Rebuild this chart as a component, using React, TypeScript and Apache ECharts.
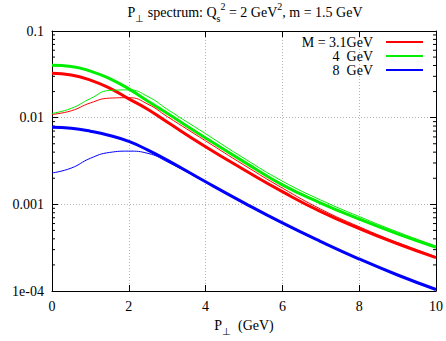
import React, { useEffect, useRef } from "react";
import * as echarts from "echarts";

const FONT = '"Liberation Serif", "Times New Roman", serif';

// P_perp values (GeV)
const pt = [0, 0.5, 1, 1.5, 2, 2.5, 3, 4, 5, 6, 7, 8, 9, 10];

// Thick curves
const redThick = [0.0325, 0.0311, 0.0271, 0.0219, 0.0165, 0.01245, 0.00891, 0.00462, 0.00251, 0.0014, 0.000822, 0.000525, 0.000351, 0.000243];
const greenThick = [0.0403, 0.039, 0.0345, 0.0282, 0.0215, 0.0155, 0.01122, 0.00582, 0.00309, 0.00168, 0.001035, 0.000676, 0.000457, 0.00032];
const blueThick = [0.00773, 0.00753, 0.00697, 0.00622, 0.00532, 0.00422, 0.00324, 0.00182, 0.00104, 0.00061, 0.000372, 0.000234, 0.000153, 0.000104];

// Thin curves
const redThin = [0.0109, 0.012, 0.0148, 0.0168, 0.017, 0.0143, 0.0103, 0.0054, 0.00284, 0.00154, 0.00088, 0.000551, 0.000362, 0.000248];
const greenThin = [0.0112, 0.0128, 0.0166, 0.0206, 0.0209, 0.0175, 0.0125, 0.00652, 0.0034, 0.00185, 0.00112, 0.000723, 0.00048, 0.00033];
const blueThin = [0.0023, 0.00262, 0.0034, 0.00397, 0.00411, 0.00387, 0.0031, 0.0018, 0.00103, 0.000605, 0.00037, 0.000233, 0.000152, 0.000104];

const legendNames = ["M = 3.1GeV", "4  GeV", "8  GeV"];
const colors = ["#ff0000", "#00ee00", "#0000ff"];

const yTickValues = [1e-4, 1e-3, 1e-2, 1e-1];
const yTickLabels = ["1e-04", "0.001", "0.01", "0.1"];
const minorMantissas = [2, 3, 4, 5, 6, 7, 8, 9];
const minorDecades = [1e-4, 1e-3, 1e-2];

export default function App() {
  const ref = useRef<HTMLDivElement>(null);

  useEffect(() => {
    if (!ref.current) return;
    const chart = echarts.init(ref.current, undefined, { renderer: "svg" });

    const minorVals: number[][] = [];
    minorDecades.forEach((d) => minorMantissas.forEach((m) => minorVals.push([0, m * d])));

    const mk = (name: string, data: number[], color: string, width: number, z: number) => ({
      type: "line",
      name,
      data: pt.map((x, i) => [x, data[i]]),
      showSymbol: false,
      smooth: 0.5,
      lineStyle: { color, width },
      itemStyle: { color },
      z,
      silent: true,
    });

    const axisCommon = {
      axisLine: { show: true, onZero: false, lineStyle: { color: "#000", width: 1 } },
      axisTick: { show: true, inside: true, length: 6, lineStyle: { color: "#000", width: 1 } },
    };

    const rich = {
      n: { fontSize: 14, fontFamily: FONT, color: "#000", lineHeight: 22 },
      s: { fontSize: 10, fontFamily: FONT, color: "#000", lineHeight: 9, verticalAlign: "bottom" },
      p: { fontSize: 10, fontFamily: FONT, color: "#000", lineHeight: 10, verticalAlign: "top" },
    };

    chart.setOption({
      animation: false,
      backgroundColor: "#fff",
      title: {
        text: "{n|P}{s|⊥}{n| spectrum: Q}{s|s}{p|2}{n| = 2 GeV}{p|2}{n|, m = 1.5 GeV}",
        left: 245,
        top: 1,
        padding: 0,
        textAlign: "center",
        textStyle: { fontFamily: FONT, fontSize: 14, fontWeight: "normal", color: "#000", rich },
      },
      legend: {
        data: legendNames,
        orient: "vertical",
        right: 23,
        top: 35,
        padding: 0,
        align: "right",
        icon: "rect",
        itemWidth: 37,
        itemHeight: 2,
        itemGap: 0,
        selectedMode: false,
        formatter: (name: string) => "{a|" + name + "}",
        textStyle: {
          fontFamily: FONT,
          fontSize: 14,
          color: "#000",
          rich: {
            a: { fontFamily: FONT, fontSize: 14, color: "#000", width: 72, align: "right", lineHeight: 18, padding: [0, 8, 0, 0] },
          },
        },
      },
      grid: { left: 52, right: 7, top: 31, bottom: 44, containLabel: false },
      xAxis: [
        {
          type: "value",
          min: 0,
          max: 10,
          interval: 2,
          position: "bottom",
          ...axisCommon,
          axisLabel: { color: "#000", fontFamily: FONT, fontSize: 14, margin: 8 },
          splitLine: { show: true, lineStyle: { color: "#b4b4b4", width: 1, type: [1, 2] } },
          name: "{n|P}{s|⊥}{n|  (GeV)}",
          nameLocation: "middle",
          nameGap: 23,
          nameTextStyle: { fontFamily: FONT, fontSize: 14, color: "#000", rich },
        },
        {
          type: "value",
          min: 0,
          max: 10,
          interval: 2,
          position: "top",
          ...axisCommon,
          axisLabel: { show: false },
          splitLine: { show: false },
        },
      ],
      yAxis: [
        {
          type: "log",
          logBase: 10,
          min: 1e-4,
          max: 0.1,
          position: "left",
          ...axisCommon,
          axisLabel: {
            color: "#000",
            fontFamily: FONT,
            fontSize: 14,
            margin: 8,
            formatter: (v: number) => {
              const i = yTickValues.findIndex((t) => Math.abs(Math.log10(t) - Math.log10(v)) < 1e-6);
              return i >= 0 ? yTickLabels[i] : "";
            },
          },
          splitLine: { show: true, lineStyle: { color: "#b4b4b4", width: 1, type: [1, 2] } },
        },
        {
          type: "log",
          logBase: 10,
          min: 1e-4,
          max: 0.1,
          position: "right",
          ...axisCommon,
          axisLabel: { show: false },
          splitLine: { show: false },
        },
      ],
      series: [
        {
          type: "custom",
          name: "minor",
          silent: true,
          clip: false,
          xAxisIndex: 0,
          yAxisIndex: 0,
          data: minorVals,
          encode: { x: 0, y: 1 },
          renderItem: (params: any, api: any) => {
            const v = api.value(1);
            const pL = api.coord([0, v]);
            const pR = api.coord([10, v]);
            return {
              type: "group",
              children: [
                { type: "line", shape: { x1: pL[0], y1: pL[1], x2: pL[0] + 3, y2: pL[1] }, style: { stroke: "#000", lineWidth: 1 } },
                { type: "line", shape: { x1: pR[0] - 3, y1: pR[1], x2: pR[0], y2: pR[1] }, style: { stroke: "#000", lineWidth: 1 } },
              ],
            };
          },
        },
        mk(legendNames[0], redThick, colors[0], 3, 3),
        mk(legendNames[1], greenThick, colors[1], 3, 3),
        mk(legendNames[2], blueThick, colors[2], 3, 3),
        mk("thin red", redThin, colors[0], 1, 4),
        mk("thin green", greenThin, colors[1], 1, 4),
        mk("thin blue", blueThin, colors[2], 1, 4),
      ],
    });

    return () => chart.dispose();
  }, []);

  return <div ref={ref} style={{ position: "absolute", left: 0, top: 0, width: 446, height: 341 }} />;
}
